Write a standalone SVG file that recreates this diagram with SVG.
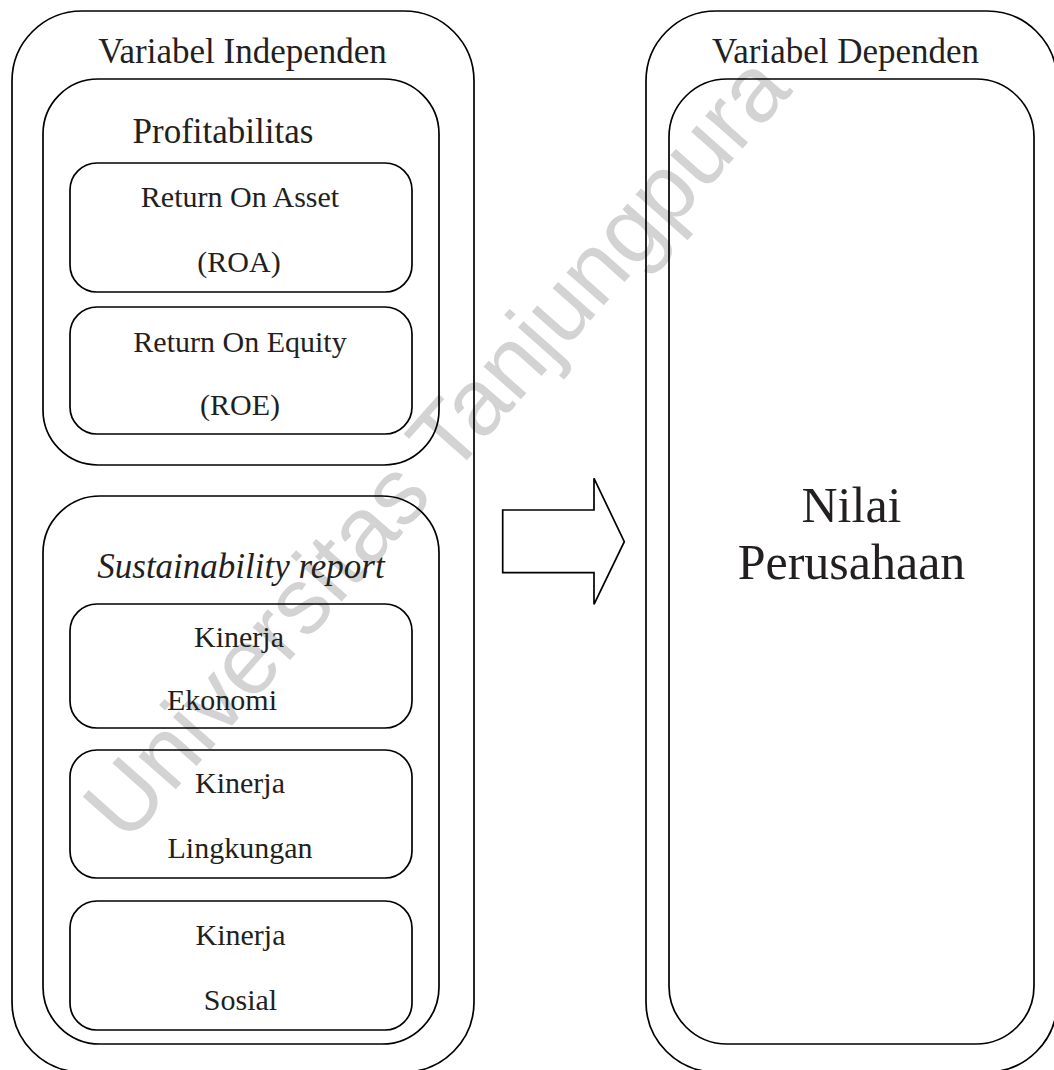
<svg xmlns="http://www.w3.org/2000/svg" width="1054" height="1070" viewBox="0 0 1054 1070">
<style>
.box{fill:none;stroke:#000;stroke-width:1.7}
.t{font-family:"Liberation Serif","Times New Roman",serif;fill:#231f20;text-anchor:middle}
.h{font-size:35px}
.s{font-size:30px}
.big{font-size:50px}
.wm{font-family:"Liberation Sans",Arial,sans-serif;font-size:94px;fill:#d3d3d3;text-anchor:middle}
</style>
<rect width="1054" height="1070" fill="#fff"/>
<text class="wm" transform="translate(460,468) rotate(-48.5)">Universitas Tanjungpura</text>
<g id="independen">
<rect class="box" x="12" y="11" width="462" height="1061" rx="70"/>
<text class="t h" x="242.5" y="63">Variabel Independen</text>
</g>
<g id="profitabilitas">
<rect class="box" x="43" y="79" width="396" height="386" rx="55"/>
<text class="t h" x="223" y="143">Profitabilitas</text>
</g>
<g id="roa">
<rect class="box" x="70" y="163" width="342" height="129" rx="27"/>
<text class="t s" x="240" y="207">Return On Asset</text>
<text class="t s" x="239" y="272">(ROA)</text>
</g>
<g id="roe">
<rect class="box" x="70" y="307" width="342" height="127" rx="27"/>
<text class="t s" x="240" y="352">Return On Equity</text>
<text class="t s" x="240" y="415">(ROE)</text>
</g>
<g id="sustainability">
<rect class="box" x="43" y="496" width="396" height="548" rx="57"/>
<text class="t h" x="241" y="578" font-style="italic">Sustainability report</text>
</g>
<g id="ekonomi">
<rect class="box" x="70" y="604" width="342" height="124" rx="27"/>
<text class="t s" x="239" y="647">Kinerja</text>
<text class="t s" x="222" y="710">Ekonomi</text>
</g>
<g id="lingkungan">
<rect class="box" x="70" y="750" width="342" height="128" rx="27"/>
<text class="t s" x="240" y="793">Kinerja</text>
<text class="t s" x="240" y="858">Lingkungan</text>
</g>
<g id="sosial">
<rect class="box" x="70" y="901" width="342" height="129" rx="27"/>
<text class="t s" x="240.5" y="945">Kinerja</text>
<text class="t s" x="240.5" y="1010">Sosial</text>
</g>
<g id="dependen">
<rect class="box" x="646" y="11" width="411" height="1061" rx="70"/>
<text class="t h" x="845.5" y="63">Variabel Dependen</text>
</g>
<g id="nilai">
<rect class="box" x="669" y="79" width="365" height="965" rx="58"/>
<text class="t big" x="851.5" y="522">Nilai</text>
<text class="t big" x="851.5" y="579">Perusahaan</text>
</g>
<g id="connectors">
<polygon class="box" points="502.7,510 594,510 594,478.3 624.3,541.7 594,604.3 594,572.7 502.7,572.7"/>
</g>
</svg>
